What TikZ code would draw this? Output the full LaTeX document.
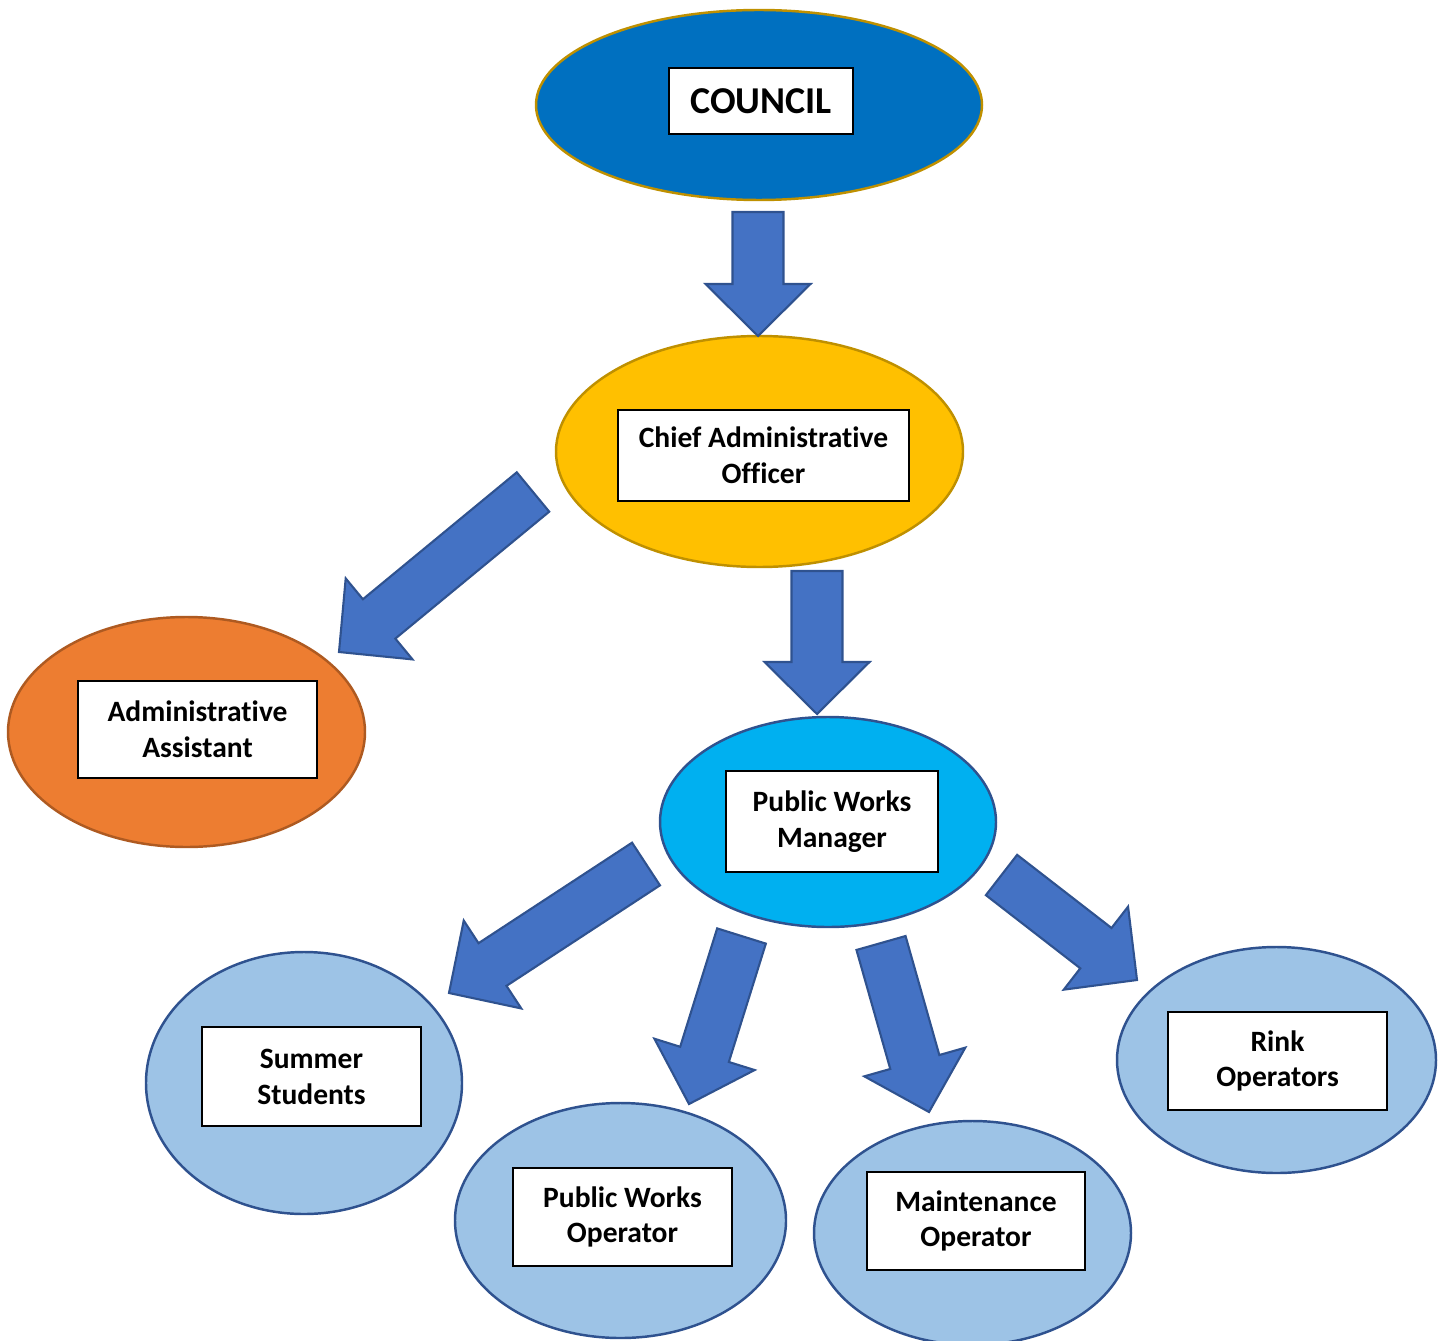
\documentclass[tikz,border=0pt]{standalone}
\usepackage{fontspec}
\setmainfont{Carlito}[Ligatures=CommonOff]
\usetikzlibrary{shapes.geometric,calc}
\definecolor{councilfill}{HTML}{0070C0}
\definecolor{goldline}{HTML}{BF9000}
\definecolor{caofill}{HTML}{FFC000}
\definecolor{assistfill}{HTML}{ED7D31}
\definecolor{assistline}{HTML}{AE5A21}
\definecolor{mgrfill}{HTML}{00B0F0}
\definecolor{stafffill}{HTML}{9DC3E6}
\definecolor{blueline}{HTML}{2F528F}
\definecolor{arrowfill}{HTML}{4472C4}

% block arrow from tail midpoint #1 to tip #2
\newcommand{\blockarrow}[2]{%
  \coordinate (neck) at ($(#2)!0.52cm!(#1)$);
  \draw[barrow]
    ($(#1)!0.255cm!90:(#2)$) -- ($(neck)!0.255cm!90:(#2)$) --
    ($(neck)!0.525cm!90:(#2)$) -- (#2) --
    ($(neck)!0.525cm!-90:(#2)$) -- ($(neck)!0.255cm!-90:(#2)$) --
    ($(#1)!0.255cm!-90:(#2)$) -- cycle;
}

\begin{document}
\begin{tikzpicture}[
  font=\bfseries\fontsize{8.4}{10.2}\selectfont,
  unit/.style={ellipse, inner sep=0pt, line width=0.7pt},
  council/.style={unit, fill=councilfill, draw=goldline},
  cao/.style={unit, fill=caofill, draw=goldline},
  assist/.style={unit, fill=assistfill, draw=assistline},
  mgr/.style={unit, fill=mgrfill, draw=blueline},
  staff/.style={unit, fill=stafffill, draw=blueline},
  title/.style={
    draw=black, fill=white, line width=0.45pt, inner sep=0pt,
    align=center, minimum width=2.19cm, minimum height=0.98cm
  },
  barrow/.style={fill=arrowfill, draw=blueline, line width=0.6pt, line join=miter},
]
\useasboundingbox (0,0) rectangle (14.44,-13.40);

% ---- Ellipses ----
\node (council) at (7.59,-1.05)   [council, minimum width=4.46cm, minimum height=1.90cm] {};
\node (cao)     at (7.595,-4.515) [cao,     minimum width=4.07cm, minimum height=2.31cm] {};
\node (assist)  at (1.865,-7.32)  [assist,  minimum width=3.57cm, minimum height=2.30cm] {};
\node (pwm)     at (8.28,-8.22)   [mgr,     minimum width=3.36cm, minimum height=2.10cm] {};
\node (summer)  at (3.04,-10.83)  [staff,   minimum width=3.16cm, minimum height=2.62cm] {};
\node (pwo)     at (6.205,-12.205)[staff,   minimum width=3.31cm, minimum height=2.35cm] {};
\node (maint)   at (9.725,-12.33) [staff,   minimum width=3.17cm, minimum height=2.24cm] {};
\node (rink)    at (12.765,-10.60)[staff,   minimum width=3.19cm, minimum height=2.26cm] {};

% ---- Title boxes ----
\node (councilbox) at (7.61,-1.01) [title, minimum width=1.84cm, minimum height=0.66cm,
  font=\bfseries\fontsize{10.8}{12}\selectfont] {COUNCIL};
\node (caobox)    at (7.635,-4.555) [title, minimum width=2.91cm, minimum height=0.91cm] {Chief Administrative\\Officer};
\node (assistbox) at (1.975,-7.295) [title, minimum width=2.39cm, minimum height=0.97cm] {Administrative\\Assistant};
\node (pwmbox)    at (8.32,-8.215)  [title, minimum width=2.12cm, minimum height=1.01cm] {Public Works\\Manager};
\node (summerbox) at (3.115,-10.765)[title, minimum height=0.99cm] {Summer\\Students};
\node (pwobox)    at (6.225,-12.17) [title] {Public Works\\Operator};
\node (maintbox)  at (9.76,-12.21)  [title, minimum width=2.18cm] {Maintenance\\Operator};
\node (rinkbox)   at (12.775,-10.61)[title] {Rink\\Operators};

% ---- Arrow ends ----
\coordinate (t1) at (7.58,-2.12);   \coordinate (h1) at (7.58,-3.36);
\coordinate (t2) at (5.33,-4.92);   \coordinate (h2) at (3.39,-6.52);
\coordinate (t3) at (8.17,-5.71);   \coordinate (h3) at (8.17,-7.14);
\coordinate (t4) at (6.46,-8.64);   \coordinate (h4) at (4.49,-9.93);
\coordinate (t5) at (7.415,-9.36);  \coordinate (h5) at (6.89,-11.04);
\coordinate (t6) at (8.81,-9.43);   \coordinate (h6) at (9.29,-11.12);
\coordinate (t7) at (10.015,-8.75); \coordinate (h7) at (11.37,-9.80);

% ---- Arrows ----
\foreach \i in {1,...,7} {
  \blockarrow{t\i}{h\i}
}

\end{tikzpicture}
\end{document}
